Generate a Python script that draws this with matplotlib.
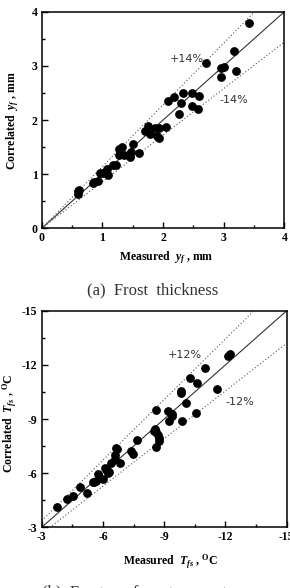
import matplotlib
matplotlib.use("Agg")
import matplotlib.pyplot as plt
import numpy as np
from matplotlib.ticker import MultipleLocator

plt.rcParams['font.family'] = ['Liberation Serif', 'DejaVu Serif']
plt.rcParams['mathtext.fontset'] = 'custom'
plt.rcParams['mathtext.rm'] = 'Liberation Serif:bold'
plt.rcParams['mathtext.it'] = 'Liberation Serif:bold:italic'
plt.rcParams['mathtext.bf'] = 'Liberation Serif:bold'

# (a) frost thickness, mm
yf_meas = [0.60, 0.60, 0.61, 0.84, 0.86, 0.93, 0.96, 1.01, 1.07, 1.10, 1.17, 1.23,
           1.28, 1.32, 1.28, 1.35, 1.46, 1.47, 1.50, 1.60, 1.75, 1.71, 1.79, 1.86,
           1.93, 1.90, 1.93, 2.05, 2.08, 2.18, 2.26, 2.33, 2.29, 2.47, 2.47, 2.60,
           2.58, 2.71, 2.95, 3.00, 2.96, 3.17, 3.20, 3.41]
yf_corr = [0.68, 0.63, 0.71, 0.83, 0.86, 0.88, 1.03, 1.03, 1.09, 0.98, 1.17, 1.17,
           1.46, 1.51, 1.35, 1.35, 1.32, 1.41, 1.56, 1.40, 1.89, 1.80, 1.75, 1.85,
           1.86, 1.70, 1.67, 1.87, 2.36, 2.42, 2.11, 2.49, 2.32, 2.49, 2.26, 2.45,
           2.20, 3.05, 2.96, 2.97, 2.79, 3.28, 2.90, 3.80]

# (b) frost surface temperature, degC
tfs_meas = [-3.74, -4.26, -4.55, -4.88, -5.21, -5.50, -5.58, -5.65, -5.77, -5.99,
            -6.12, -6.19, -6.31, -6.24, -6.40, -6.84, -6.63, -6.68, -6.61, -6.61,
            -7.39, -7.49, -7.66, -8.59, -8.55, -8.62, -8.70, -8.75, -8.72, -8.50,
            -8.60, -9.19, -9.37, -9.21, -9.40, -9.89, -10.07, -10.55, -9.84, -9.84,
            -10.61, -10.27, -11.00, -11.59, -12.12, -12.20]
tfs_corr = [-4.14, -4.57, -4.73, -5.22, -4.92, -5.53, -5.53, -5.55, -5.95, -5.66,
            -6.30, -6.18, -6.08, -6.03, -6.55, -6.55, -7.38, -7.32, -7.01, -6.78,
            -7.24, -7.04, -7.84, -7.47, -8.45, -8.28, -8.12, -7.95, -7.80, -8.35,
            -9.50, -9.44, -9.18, -8.91, -9.26, -8.91, -9.90, -9.32, -10.55, -10.46,
            -11.00, -11.29, -11.83, -10.66, -12.51, -12.60]

bold = dict(fontweight='bold', fontsize=8.5)

fig = plt.figure(figsize=(2.9, 5.88), dpi=100)


def style(ax):
    for sp in ax.spines.values():
        sp.set_linewidth(1.1)
    ax.tick_params(which='both', direction='in', top=False, right=False, width=1.0, pad=3)
    ax.tick_params(which='major', length=4)
    ax.tick_params(which='minor', length=2.5)
    for lab in ax.get_xticklabels() + ax.get_yticklabels():
        lab.set_fontweight('bold')
        lab.set_fontsize(8.5)


# ---- (a)
ax1 = fig.add_axes([0.1438, 0.6117, 0.837, 0.3684])
lim = np.array([0, 4])
ax1.plot(lim, lim, color='#333333', lw=0.8)
ax1.plot(lim, 1.14 * lim, color='#555555', lw=0.8, ls=(0, (1, 2)))
ax1.plot(lim, 0.86 * lim, color='#555555', lw=0.8, ls=(0, (1, 2)))
ax1.scatter(yf_meas, yf_corr, s=28, color='black', zorder=3)
ax1.set_xlim(0, 4)
ax1.set_ylim(0, 4)
ax1.xaxis.set_major_locator(MultipleLocator(1))
ax1.yaxis.set_major_locator(MultipleLocator(1))
ax1.xaxis.set_minor_locator(MultipleLocator(0.5))
ax1.yaxis.set_minor_locator(MultipleLocator(0.5))
style(ax1)
ax1.text(2.40, 3.13, '+14%', fontsize=8, family='DejaVu Sans', color='#333333',
         ha='center', va='center')
ax1.text(3.17, 2.37, '-14%', fontsize=8, family='DejaVu Sans', color='#333333',
         ha='center', va='center')
ax1.set_xlabel(r'Measured  $y_f$ , mm', **bold)
ax1.set_ylabel(r'Correlated  $y_f$ , mm', **bold)
ax1.xaxis.set_label_coords(0.515, -0.137)
ax1.yaxis.set_label_coords(-0.118, 0.5)
ax1.xaxis.label.set_va('center')
ax1.yaxis.label.set_va('center')
fig.text(153, 588 - 290, '(a)  Frost  thickness', transform=None, fontsize=12,
         ha='center', va='center', color='#333333')

# ---- (b)
ax2 = fig.add_axes([0.1438, 0.1032, 0.845, 0.3684])
lim = np.array([-3, -15])
ax2.plot(lim, lim, color='#333333', lw=0.8)
ax2.plot(lim, 1.12 * lim, color='#555555', lw=0.8, ls=(0, (1, 2)))
ax2.plot(lim, 0.88 * lim, color='#555555', lw=0.8, ls=(0, (1, 2)))
ax2.scatter(tfs_meas, tfs_corr, s=28, color='black', zorder=3)
ax2.set_xlim(-3, -15)
ax2.set_ylim(-3, -15)
ax2.xaxis.set_minor_locator(MultipleLocator(1.5))
ax2.yaxis.set_minor_locator(MultipleLocator(1.5))
ax2.set_xticks([-3, -6, -9, -12, -15])
ax2.set_xticklabels(['-3', '-6', '-9', '-12', '-15'])
ax2.set_yticks([-3, -6, -9, -12, -15])
ax2.set_yticklabels(['-3', '-6', '-9', '-12', '-15'])
style(ax2)
ax2.text(-9.99, -12.55, '+12%', fontsize=8, family='DejaVu Sans', color='#333333',
         ha='center', va='center')
ax2.text(-12.72, -9.96, '-12%', fontsize=8, family='DejaVu Sans', color='#333333',
         ha='center', va='center')
ax2.set_xlabel(r'Measured  $T_{fs}$ , $^{\rm O}$C', **bold)
ax2.set_ylabel(r'Correlated  $T_{fs}$ , $^{\rm O}$C', **bold)
ax2.xaxis.set_label_coords(0.524, -0.159)
ax2.yaxis.set_label_coords(-0.128, 0.48)
ax2.xaxis.label.set_va('center')
ax2.yaxis.label.set_va('center')
fig.text(145, 588 - 593, '(b)  Frost  surface  temperature', transform=None, fontsize=12,
         ha='center', va='center', color='#333333')

fig.savefig('out.png', dpi=100)
